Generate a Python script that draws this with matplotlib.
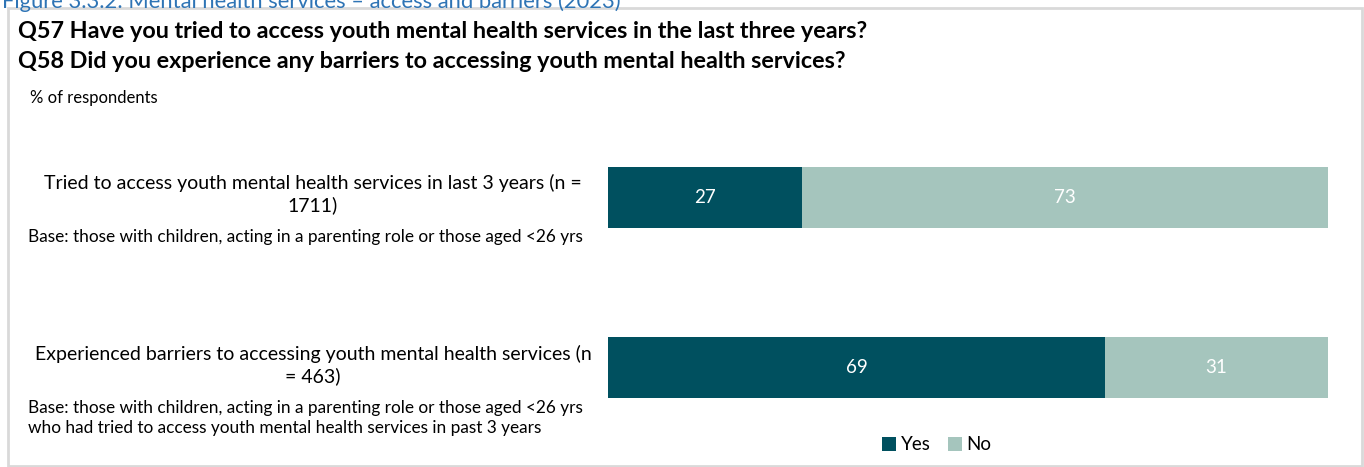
import matplotlib.pyplot as plt
import matplotlib.patches as patches

# data
categories = [
    "Tried to access youth mental health services in last 3 years (n =\n1711)",
    "Experienced barriers to accessing youth mental health services (n\n= 463)",
]
bases = [
    "Base: those with children, acting in a parenting role or those aged <26 yrs",
    "Base: those with children, acting in a parenting role or those aged <26 yrs\n"
    "who had tried to access youth mental health services in past 3 years",
]
yes_vals = [27, 69]
no_vals = [73, 31]
series_names = ["Yes", "No"]
colors = ["#00505F", "#A5C5BD"]

W, H = 1364, 467
plt.rcParams['font.family'] = ['Lato', 'DejaVu Sans']
fig = plt.figure(figsize=(W / 100, H / 100), dpi=100)

def fx(px): return px / W
def fy(py): return 1 - py / H

# outer frame
fig.patches.append(patches.Rectangle((fx(8), fy(466)), fx(1354), fy(8) - fy(466),
                                     transform=fig.transFigure, facecolor="none",
                                     edgecolor="#D9D9D9", linewidth=2))

# caption at top, clipped by the page edge as in the source
fig.text(fx(2), fy(2), "Figure 3.3.2: Mental health services \u2013 access and barriers (2023)",
         fontsize=15.8, color="#2E74B5", ha="left", va="center")

fig.text(fx(18), fy(31), "Q57 Have you tried to access youth mental health services in the last three years?",
         fontsize=16.8, fontweight="bold", ha="left", va="center")
fig.text(fx(18), fy(62), "Q58 Did you experience any barriers to accessing youth mental health services?",
         fontsize=16.8, fontweight="bold", ha="left", va="center")
fig.text(fx(30), fy(98), "% of respondents", fontsize=12, ha="left", va="center")

# axes: bar centres at px 197.5 and 367.5
ax = fig.add_axes([fx(608), fy(452.5), fx(1328) - fx(608), fy(112.5) - fy(452.5)])
ypos = list(range(len(categories)))
ax.barh(ypos, yes_vals, height=0.36, color=colors[0], label=series_names[0])
ax.barh(ypos, no_vals, left=yes_vals, height=0.36, color=colors[1], label=series_names[1])
for i in ypos:
    ax.text(yes_vals[i] / 2, i, str(yes_vals[i]), color="white", fontsize=13.5,
            ha="center", va="center")
    ax.text(yes_vals[i] + no_vals[i] / 2, i, str(no_vals[i]), color="white", fontsize=13.5,
            ha="center", va="center")
ax.set_xlim(0, 100)
ax.set_ylim(1.5, -0.5)
ax.axis("off")

# category labels
label_y = [194, 365]
base_y = [237, 418]
for i in ypos:
    fig.text(fx(313), fy(label_y[i]), categories[i], fontsize=14, ha="center", va="center",
             linespacing=1.25)
    fig.text(fx(28), fy(base_y[i]), bases[i], fontsize=12.4, ha="left", va="center",
             linespacing=1.3)

ax.legend(loc="center", ncol=2, frameon=False, fontsize=13.5, handlelength=0.75,
          handleheight=0.75, handletextpad=0.25, columnspacing=0.9,
          bbox_to_anchor=(fx(937), fy(445)), bbox_transform=fig.transFigure)

fig.savefig("out.png", dpi=100)
